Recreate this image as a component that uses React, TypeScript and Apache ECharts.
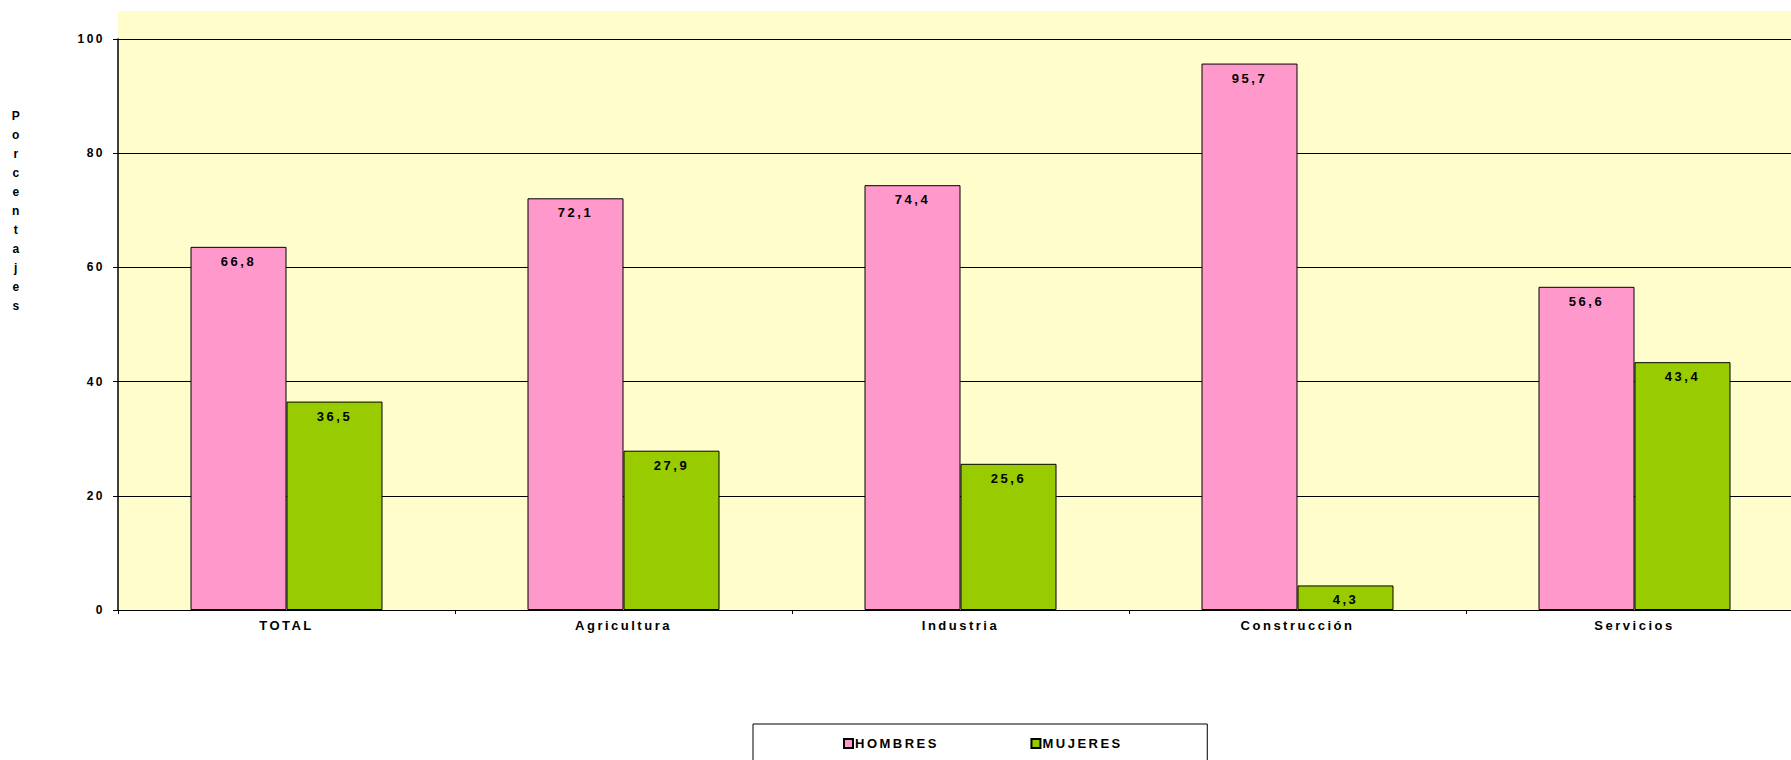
import React, { useEffect, useRef } from "react";
import * as echarts from "echarts";

const categories = ["TOTAL", "Agricultura", "Industria", "Construcción", "Servicios"];
const hombresValues = [63.6, 72.1, 74.4, 95.7, 56.6];
const hombresLabels = ["66,8", "72,1", "74,4", "95,7", "56,6"];
const mujeresValues = [36.5, 27.9, 25.6, 4.3, 43.4];
const mujeresLabels = ["36,5", "27,9", "25,6", "4,3", "43,4"];
const yAxisTitle = "Porcentajes";
const seriesNames = ["HOMBRES", "MUJERES"];

const FONT = "'Liberation Sans', Arial, sans-serif";

export default function App() {
  const ref = useRef<HTMLDivElement>(null);

  useEffect(() => {
    document.body.style.overflow = "hidden";
    const chart = echarts.init(ref.current!, null, { renderer: "svg" });
    const labelStyle = {
      show: true,
      position: "insideTop" as const,
      distance: 8,
      color: "#000",
      fontFamily: FONT,
      fontWeight: "bold" as const,
      fontSize: 13,
    };
    chart.setOption({
      animation: false,
      backgroundColor: "#ffffff",
      textStyle: { fontFamily: FONT },
      graphic: [
        {
          type: "rect",
          z: -100,
          silent: true,
          shape: { x: 118, y: 11, width: 1700, height: 599 },
          style: { fill: "#FFFDCC" },
        },
        {
          type: "text",
          x: 17,
          y: 211,
          style: {
            text: yAxisTitle.split("").join("\n"),
            fill: "#000",
            font: `bold 12px ${FONT}`,
            align: "center",
            verticalAlign: "middle",
            lineHeight: 19,
          },
        },
      ],
      grid: { left: 118, right: 7, top: 39, bottom: 150, containLabel: false },
      legend: {
        data: seriesNames,
        left: 753,
        top: 724,
        orient: "horizontal",
        padding: [13, 102, 40, 90],
        itemGap: 109,
        itemWidth: 9,
        itemHeight: 9,
        icon: "rect",
        backgroundColor: "#ffffff",
        borderColor: "#000",
        borderWidth: 1,
        textStyle: { color: "#000", fontFamily: FONT, fontWeight: "bold", fontSize: 13, padding: [0, 0, 0, -3] },
      },
      xAxis: {
        type: "category",
        data: categories,
        axisLine: { show: true, lineStyle: { color: "#000", width: 1 } },
        axisTick: { show: true, length: 4, lineStyle: { color: "#000" } },
        axisLabel: {
          interval: 0,
          margin: 9,
          color: "#000",
          fontFamily: FONT,
          fontWeight: "bold",
          fontSize: 13,
        },
        splitLine: { show: false },
      },
      yAxis: {
        type: "value",
        min: 0,
        max: 100,
        interval: 20,
        axisLine: { show: true, lineStyle: { color: "#000", width: 1.5 } },
        axisTick: { show: true, length: 5, lineStyle: { color: "#000" } },
        axisLabel: {
          margin: 13,
          color: "#000",
          fontFamily: FONT,
          fontWeight: "bold",
          fontSize: 12,
        },
        splitLine: { show: true, lineStyle: { color: "#000", width: 1 } },
      },
      series: [
        {
          name: seriesNames[0],
          type: "bar",
          data: hombresValues,
          barWidth: 96,
          barGap: "0%",
          itemStyle: { color: "#FF99CC", borderColor: "#000", borderWidth: 1 },
          label: { ...labelStyle, formatter: (p: any) => hombresLabels[p.dataIndex] },
        },
        {
          name: seriesNames[1],
          type: "bar",
          data: mujeresValues,
          barWidth: 96,
          barGap: "0%",
          itemStyle: { color: "#99CC00", borderColor: "#000", borderWidth: 1 },
          label: { ...labelStyle, formatter: (p: any) => mujeresLabels[p.dataIndex] },
        },
      ],
    });
    return () => chart.dispose();
  }, []);

  return (
    <div
      ref={ref}
      style={{
        position: "fixed",
        left: 0,
        top: 0,
        width: 1810,
        height: 760,
        letterSpacing: "2.5px",
      }}
    />
  );
}
